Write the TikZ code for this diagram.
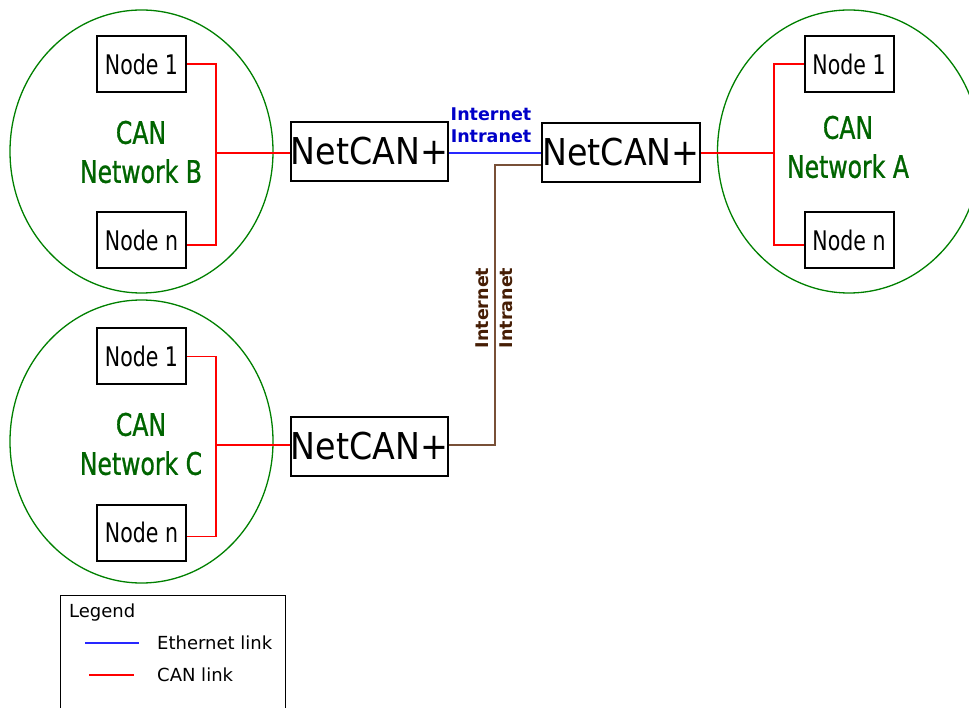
\documentclass[tikz,border=0pt]{standalone}
\usepackage{fontspec}
\setmainfont{DejaVu Sans}
\newfontfamily\condfont[FakeStretch=0.76]{DejaVu Sans}
\newfontfamily\canfont[FakeStretch=0.76,FakeBold=0.9]{DejaVu Sans}
\newfontfamily\netfont[FakeStretch=0.9]{DejaVu Sans}
\usetikzlibrary{shapes.geometric}
\definecolor{cangreen}{RGB}{0,128,0}
\definecolor{cantext}{RGB}{0,100,0}
\definecolor{canred}{RGB}{255,0,0}
\definecolor{ethblue}{RGB}{40,40,255}
\definecolor{labblue}{RGB}{0,0,200}
\definecolor{brline}{RGB}{120,80,55}
\definecolor{brtext}{RGB}{70,30,5}
\tikzset{
  netcircle/.style={draw=cangreen, line width=1.3pt, ellipse, minimum width=263pt, minimum height=283pt, inner sep=0pt},
  nodebox/.style={draw=black, line width=2pt, minimum width=89pt, minimum height=56pt, inner sep=0pt, font=\condfont\fontsize{27}{30}\selectfont},
  gatebox/.style={draw=black, line width=2pt, minimum width=154pt, minimum height=59pt, inner sep=0pt, font=\netfont\fontsize{37}{40}\selectfont},
  canlabel/.style={text=cantext, align=center, font=\canfont\fontsize{31}{39}\selectfont},
  can/.style={draw=canred, line width=1.3pt},
  eth/.style={draw=ethblue, line width=1.3pt},
  brlink/.style={draw=brline, line width=1.3pt},
  linklabel/.style={font=\bfseries\fontsize{17.5}{22}\selectfont, inner sep=0pt},
  legtext/.style={anchor=west, font=\fontsize{18}{22}\selectfont, inner sep=0pt}
}
\begin{document}
\begin{tikzpicture}[x=1pt,y=-1pt]
\useasboundingbox (0,0) rectangle (969,708);
% networks
\node[netcircle] (cB) at (141.5,151.5) {};
\node[netcircle] (cC) at (141.5,441.5) {};
\node[netcircle] (cA) at (849,151.5) {};
\node[canlabel] (tB) at (141,152) {CAN\\Network B};
\node[canlabel] (tC) at (141,444) {CAN\\Network C};
\node[canlabel] (tA) at (848,147) {CAN\\Network A};
% CAN nodes
\node[nodebox] (nB1) at (141.5,64) {Node 1};
\node[nodebox] (nBn) at (141.5,240) {Node n};
\node[nodebox] (nC1) at (141.5,356.5) {Node 1};
\node[nodebox] (nCn) at (141.5,532.5) {Node n};
\node[nodebox] (nA1) at (849,64) {Node 1};
\node[nodebox] (nAn) at (849,240) {Node n};
% gateways
\node[gatebox] (gB) at (369.5,151.5) {NetCAN+};
\node[gatebox] (gA) at (621,152.5) {NetCAN+};
\node[gatebox] (gC) at (369.5,446) {NetCAN+};
% CAN buses
\coordinate (jB) at (216,153);
\coordinate (jC) at (216,445);
\coordinate (jA) at (774,153);
\draw[can] (nB1.east) -| (jB) |- ([yshift=-5pt]nBn.east);
\draw[can] (jB) -- (gB.west |- jB);
\draw[can] (nC1.east) -| (jC) |- ([yshift=-4pt]nCn.east);
\draw[can] (jC) -- (gC.west |- jC);
\draw[can] (nA1.west) -| (jA) |- ([yshift=-5pt]nAn.west);
\draw[can] (jA) -- (gA.east |- jA);
% ethernet links
\draw[eth] ([yshift=-1.5pt]gB.east) -- (gA.west |- 0,153);
\coordinate (bend) at (495,445);
\draw[brlink] ([yshift=-12.5pt]gA.west) -| (bend) -- (gC.east |- bend);
\node[linklabel, text=labblue, align=center] (lbl1) at (491,125) {Internet\\Intranet};
\node[linklabel, text=brtext, rotate=90] (lbl2) at (482,308) {Internet};
\node[linklabel, text=brtext, rotate=90] (lbl3) at (506,308) {Intranet};
% legend
\node[draw=black, line width=1pt, minimum width=225pt, minimum height=125pt, inner sep=0pt] (leg) at (172.5,657.5) {};
\node[legtext] (legt) at (69,613) {Legend};
\coordinate (e1) at (85,643);
\coordinate (e2) at (139,643);
\coordinate (c1) at (89,675);
\coordinate (c2) at (134,675);
\draw[eth] (e1) -- (e2);
\draw[can] (c1) -- (c2);
\node[legtext] (le) at (157,643) {Ethernet link};
\node[legtext] (lc) at (157,675) {CAN link};
\end{tikzpicture}
\end{document}
